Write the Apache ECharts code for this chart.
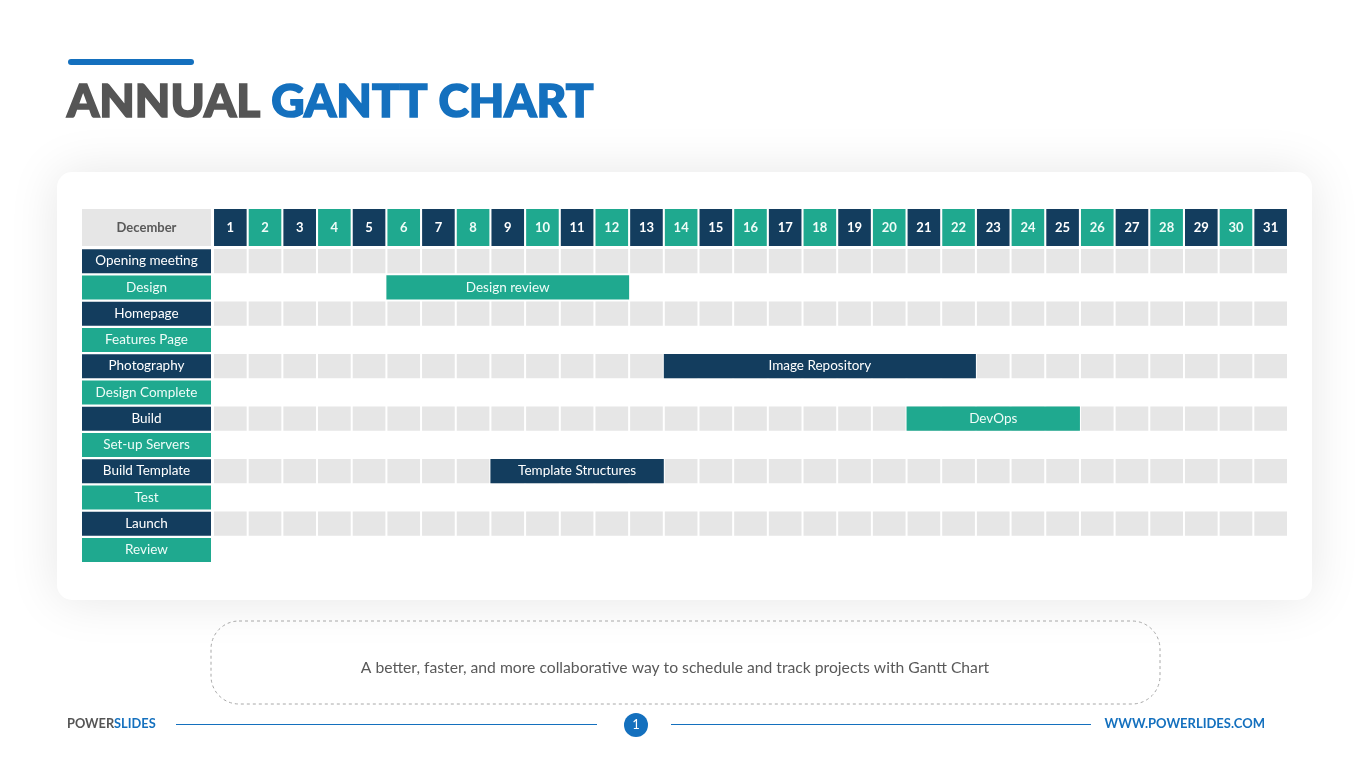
<!DOCTYPE html>
<html>
<head>
<meta charset="utf-8">
<title>Annual Gantt Chart</title>
<script src="https://cdn.jsdelivr.net/npm/echarts@6/dist/echarts.min.js"></script>
<style>
  html, body { margin: 0; padding: 0; background: #fff; }
  #main { width: 1365px; height: 767px; }
</style>
</head>
<body>
<div id="main"></div>
<script>
// data
const monthName = 'December';
const days = ['1','2','3','4','5','6','7','8','9','10','11','12','13','14','15','16',
  '17','18','19','20','21','22','23','24','25','26','27','28','29','30','31'];
const tasks = ['Opening meeting', 'Design', 'Homepage', 'Features Page', 'Photography',
  'Design Complete', 'Build', 'Set-up Servers', 'Build Template', 'Test', 'Launch', 'Review'];
// bars: task row, first day, last day, text
const barRows = [1, 4, 6, 8];
const barStart = [6, 14, 21, 9];
const barEnd = [12, 22, 25, 13];
const barNames = ['Design review', 'Image Repository', 'DevOps', 'Template Structures'];

const NAVY = '#133d5e';
const TEAL = '#1fa98f';
const BLUE = '#1470be';
const FONT = 'Lato, "Open Sans", sans-serif';

// grey cells on every other row
const cellData = [];
tasks.forEach((t, r) => {
  if (r % 2 === 0) {
    days.forEach((d, i) => cellData.push([i + 1, r]));
  }
});
const barData = barRows.map((r, i) => [r, barStart[i], barEnd[i], barNames[i], i]);

const chart = echarts.init(document.getElementById('main'));

const option = {
  backgroundColor: '#ffffff',
  animation: false,
  textStyle: { fontFamily: FONT },
  grid: { left: 213, right: 77, top: 248, bottom: 204 },
  xAxis: [
    { type: 'value', min: 0, max: 31, show: false },
    {
      type: 'category', data: days, position: 'top', boundaryGap: true,
      axisLine: { show: false }, axisTick: { show: false }, splitLine: { show: false },
      axisLabel: {
        interval: 0, margin: 2,
        formatter: (v, i) => (i % 2 === 0 ? '{n|' : '{t|') + v + '}',
        rich: {
          n: { backgroundColor: NAVY, color: '#ffffff', width: 32.6, height: 37, lineHeight: 37,
               align: 'center', fontSize: 13, fontWeight: 'bold', fontFamily: FONT },
          t: { backgroundColor: TEAL, color: '#effcf8', width: 32.6, height: 37, lineHeight: 37,
               align: 'center', fontSize: 13, fontWeight: 'bold', fontFamily: FONT }
        }
      }
    }
  ],
  yAxis: {
    type: 'category', data: tasks, inverse: true,
    axisLine: { show: false }, axisTick: { show: false }, splitLine: { show: false },
    axisLabel: {
      interval: 0, margin: 2,
      formatter: (v, i) => (i % 2 === 0 ? '{n|' : '{t|') + v + '}',
      rich: {
        n: { backgroundColor: NAVY, color: '#ffffff', width: 129, height: 24, lineHeight: 24,
             align: 'center', fontSize: 13.5, fontFamily: FONT },
        t: { backgroundColor: TEAL, color: '#effcf8', width: 129, height: 24, lineHeight: 24,
             align: 'center', fontSize: 13.5, fontFamily: FONT }
      }
    }
  },
  graphic: [
    { type: 'rect', z: -10, shape: { x: 57, y: 172, width: 1255, height: 428, r: 15 },
      style: { fill: '#ffffff', shadowBlur: 50, shadowColor: 'rgba(0,0,0,0.1)' } },
    { type: 'rect', shape: { x: 68, y: 59, width: 126, height: 6, r: 3 }, style: { fill: BLUE } },
    { type: 'text', x: 67, y: 102,
      style: {
        text: '{a|ANNUAL }{b|GANTT CHART}', verticalAlign: 'middle',
        rich: {
          a: { fill: '#555555', stroke: '#555555', lineWidth: 1.6, fontSize: 46, fontWeight: 900, fontFamily: FONT },
          b: { fill: BLUE, stroke: BLUE, lineWidth: 1.6, fontSize: 46, fontWeight: 900, fontFamily: FONT }
        }
      } },
    { type: 'rect', shape: { x: 82, y: 209, width: 129, height: 37 }, style: { fill: '#e6e6e6' } },
    { type: 'text', x: 146.5, y: 228,
      style: { text: monthName, align: 'center', verticalAlign: 'middle', fill: '#595959',
               fontSize: 13, fontWeight: 'bold', fontFamily: FONT } },
    { type: 'rect', shape: { x: 211, y: 621, width: 949, height: 83, r: 28 },
      style: { fill: 'none', stroke: '#a8a8a8', lineWidth: 1, lineDash: [3, 3] } },
    { type: 'text', x: 675, y: 668,
      style: { text: 'A better, faster, and more collaborative way to schedule and track projects with Gantt Chart',
               align: 'center', verticalAlign: 'middle', fill: '#595959', fontSize: 15.7, fontFamily: FONT } },
    { type: 'text', x: 67, y: 724,
      style: {
        text: '{a|POWER}{b|SLIDES}', verticalAlign: 'middle',
        rich: {
          a: { fill: '#555555', fontSize: 12.8, fontWeight: 'bold', fontFamily: FONT },
          b: { fill: BLUE, fontSize: 12.8, fontWeight: 'bold', fontFamily: FONT }
        }
      } },
    { type: 'line', shape: { x1: 176, y1: 724.5, x2: 597, y2: 724.5 }, style: { stroke: BLUE, lineWidth: 1 } },
    { type: 'line', shape: { x1: 671, y1: 724.5, x2: 1091, y2: 724.5 }, style: { stroke: BLUE, lineWidth: 1 } },
    { type: 'circle', shape: { cx: 636, cy: 725, r: 12 }, style: { fill: BLUE } },
    { type: 'text', x: 636, y: 725,
      style: { text: '1', align: 'center', verticalAlign: 'middle', fill: '#ffffff', fontSize: 13, fontFamily: FONT } },
    { type: 'text', x: 1265, y: 724,
      style: { text: 'WWW.POWERLIDES.COM', align: 'right', verticalAlign: 'middle', fill: BLUE,
               fontSize: 13, fontWeight: 'bold', fontFamily: FONT } }
  ],
  series: [
    {
      type: 'custom', name: 'cells', xAxisIndex: 0, yAxisIndex: 0,
      data: cellData,
      encode: { x: 0, y: 1 },
      renderItem: (params, api) => {
        const p0 = api.coord([api.value(0) - 1, api.value(1)]);
        const p1 = api.coord([api.value(0), api.value(1)]);
        const h = api.size([0, 1])[1] - 2.2;
        return {
          type: 'rect',
          shape: { x: p0[0] + 1, y: p0[1] - h / 2, width: p1[0] - p0[0] - 2, height: h },
          style: { fill: '#e6e6e6' }
        };
      }
    },
    {
      type: 'custom', name: 'tasks', xAxisIndex: 0, yAxisIndex: 0, z: 5,
      data: barData,
      encode: { x: [1, 2], y: 0 },
      renderItem: (params, api) => {
        const row = api.value(0);
        const p0 = api.coord([api.value(1) - 1, row]);
        const p1 = api.coord([api.value(2), row]);
        const h = api.size([0, 1])[1] - 2.2;
        const idx = api.value(4);
        return {
          type: 'rect',
          shape: { x: p0[0], y: p0[1] - h / 2, width: p1[0] - p0[0], height: h },
          style: { fill: idx % 2 === 0 ? TEAL : NAVY },
          textContent: {
            style: { text: barNames[idx], fill: idx % 2 === 0 ? '#effcf8' : '#ffffff',
                     fontSize: 13.5, fontFamily: FONT }
          },
          textConfig: { position: 'inside' }
        };
      }
    }
  ]
};

chart.setOption(option);
</script>
</body>
</html>
